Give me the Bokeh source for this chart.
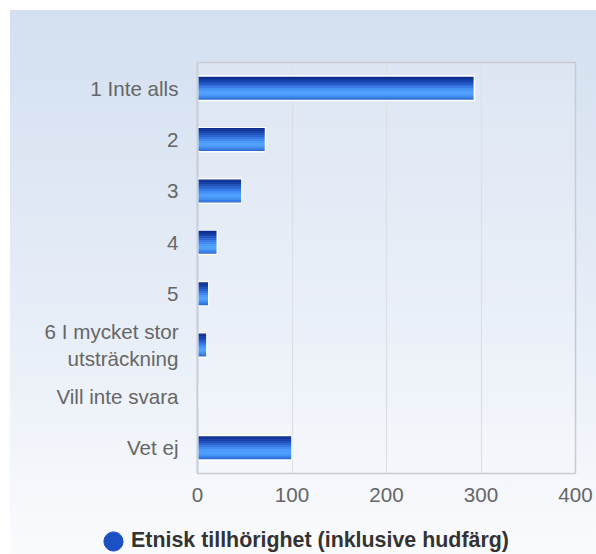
from bokeh.plotting import figure
from bokeh.layouts import column, row
from bokeh.models import (ColumnDataSource, FactorRange, Legend, LegendItem,
                          FixedTicker, Range1d)
from bokeh.transform import dodge
from bokeh.embed import file_html
from bokeh.resources import INLINE

categories = ["1 Inte alls", "2", "3", "4", "5",
              "6 I mycket stor\nutsträckning", "Vill inte svara", "Vet ej"]
counts = [293, 72, 47, 21, 12, 10, 1, 100]
x_ticks = [0, 100, 200, 300, 400]
series_name = "Etnisk tillhörighet (inklusive hudfärg)"

# vertical gradient of the bars (top -> bottom)
grad_colors = ["#0a2a8a", "#0f3497", "#1641a8", "#1f52bd", "#2a65d2", "#3679e5",
               "#418cf3", "#4b9bfc", "#50a1ff", "#4898f8", "#3a84ea", "#2c6dd8"]

source = ColumnDataSource(data=dict(cat=categories, count=counts))

p = figure(y_range=FactorRange(factors=categories[::-1]),
           x_range=Range1d(0, 400),
           width=596, height=510,
           output_backend="svg", toolbar_location=None,
           min_border_left=197, min_border_right=21,
           min_border_top=62, min_border_bottom=37)

p.border_fill_alpha = 0
p.background_fill_color = "#ffffff"
p.background_fill_alpha = 0.15
p.outline_line_color = "#c8ccd2"
p.outline_line_width = 1.5

p.ygrid.grid_line_color = None
p.xgrid.ticker = FixedTicker(ticks=x_ticks)
p.xgrid.grid_line_color = "#dcdfe4"
p.xgrid.grid_line_width = 1.2

p.xaxis.ticker = FixedTicker(ticks=x_ticks)
for ax in (p.xaxis, p.yaxis):
    ax.major_tick_line_color = None
    ax.minor_tick_line_color = None
    ax.major_tick_out = 0
    ax.major_tick_in = 0
    ax.major_label_text_font = "Liberation Sans"
    ax.major_label_text_font_size = "20.6px"
    ax.major_label_text_color = "#666666"
p.xaxis.axis_line_color = None
p.xaxis.major_label_standoff = 14
p.yaxis.axis_line_color = "#c9d0dd"
p.yaxis.axis_line_width = 2
p.yaxis.major_label_standoff = 19

h = 0.48
N = len(grad_colors)
for i, c in enumerate(grad_colors):
    off = h / 2 - (i + 0.5) * h / N
    p.hbar(y=dodge("cat", off, range=p.y_range), left=0, right="count",
           height=h / N, source=source, fill_color=c, line_color=c, line_width=0.6)
p.hbar(y="cat", left=0, right="count", height=h, source=source,
       fill_alpha=0, line_color="white", line_width=1.6)

# legend strip under the chart
q = figure(width=596, height=44, x_range=Range1d(0, 1), y_range=Range1d(0, 1),
           x_axis_type=None, y_axis_type=None,
           output_backend="svg", toolbar_location=None,
           min_border_left=0, min_border_right=0, min_border_top=0, min_border_bottom=0)
q.border_fill_alpha = 0
q.background_fill_alpha = 0
q.outline_line_color = None
q.grid.visible = False

leg_r = q.ellipse(x=[-5], y=[0.5], width=19, height=19,
                  width_units="screen", height_units="screen",
                  fill_color="#1d50c2", line_color="#1d50c2")

legend = Legend(items=[LegendItem(label=series_name, renderers=[leg_r])],
                location=(101, 1), orientation="horizontal",
                glyph_width=24, glyph_height=24, label_standoff=6,
                label_text_font="Liberation Sans", label_text_font_style="bold",
                label_text_font_size="21.4px", label_text_color="#333333",
                border_line_color=None, background_fill_alpha=0,
                padding=0, margin=0)
q.add_layout(legend, "center")

page = column(p, row(q, spacing=0), spacing=0)
page.styles = {"background": "linear-gradient(180deg, #d3dff0 0%, #e6edf7 55%, #fafbfd 100%)",
               "box-shadow": "inset 10px 10px 0 0 #ffffff"}

open("out.html", "w").write(file_html(page, INLINE))
